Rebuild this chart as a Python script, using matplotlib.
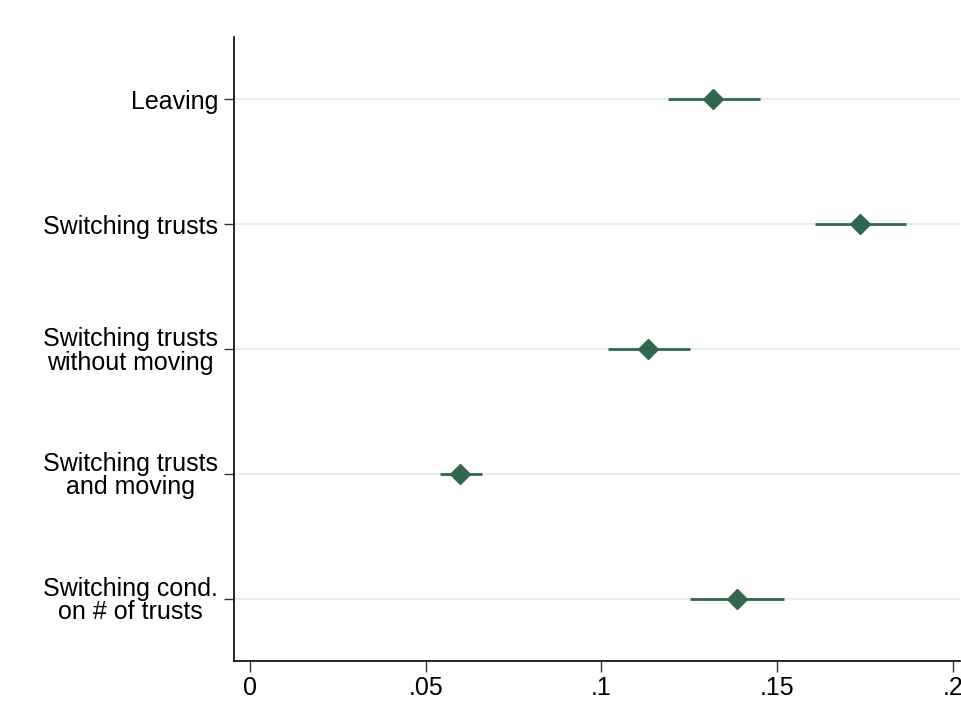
import matplotlib.pyplot as plt

plt.rcParams['font.family'] = ['Liberation Sans', 'DejaVu Sans']

labels = ["Leaving", "Switching trusts", "Switching trusts\nwithout moving",
          "Switching trusts\nand moving", "Switching cond.\non # of trusts"]
estimates = [0.1317, 0.1735, 0.1132, 0.0597, 0.1385]
ci_low = [0.1190, 0.1607, 0.1019, 0.0540, 0.1252]
ci_high = [0.1450, 0.1866, 0.1252, 0.0660, 0.1519]
xticks = [0, 0.05, 0.1, 0.15, 0.2]
xticklabels = ["0", ".05", ".1", ".15", ".2"]

green = "#31674e"

fig = plt.figure(figsize=(9.61, 7.01), dpi=100)
ax = fig.add_axes([234 / 961, 40 / 701, 726 / 961, 624 / 701])

ypos = list(range(1, len(labels) + 1))

for y in ypos:
    ax.axhline(y, color="#e6eeef", lw=1.6, zorder=0)

ax.hlines(ypos, ci_low, ci_high, color=green, lw=2, zorder=2)
ax.plot(estimates, ypos, "D", color=green, markersize=10.5, zorder=3, ls="none")

ax.set_xlim(-0.00455, 0.202)
ax.set_ylim(5.5, 0.5)

ax.set_yticks(ypos)
ax.set_yticklabels(labels, fontsize=18, linespacing=0.95)
for lbl in ax.get_yticklabels():
    lbl.set_multialignment("center")
ax.set_xticks(xticks)
ax.set_xticklabels(xticklabels, fontsize=18)

ax.tick_params(axis="y", length=7.2, width=1, pad=4.3, color="#333333")
ax.tick_params(axis="x", length=8, width=1, pad=2.5, color="#333333")

ax.spines["top"].set_visible(False)
ax.spines["right"].set_visible(False)
for s in ["left", "bottom"]:
    ax.spines[s].set_linewidth(1.2)
    ax.spines[s].set_color("black")

fig.savefig("out.png", dpi=100)
